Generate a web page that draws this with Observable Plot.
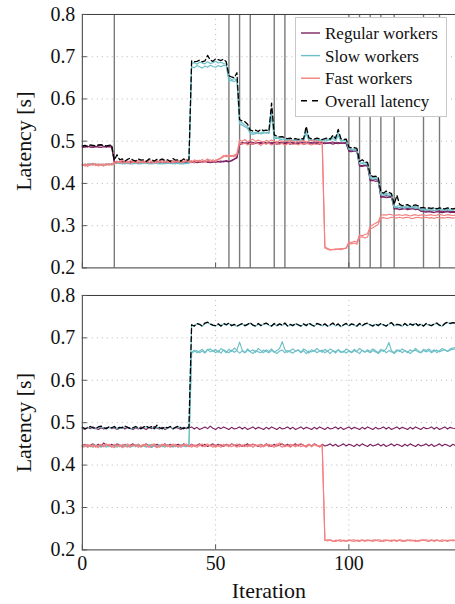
<!DOCTYPE html>
<html><head><meta charset="utf-8">
<script src="https://cdn.jsdelivr.net/npm/d3@7"></script>
<script src="https://cdn.jsdelivr.net/npm/@observablehq/plot@0.6"></script>
<style>
body{margin:0;background:#fff;overflow:hidden;}
#wrap{position:relative;width:455px;height:604px;overflow:hidden;background:#fff;}
#wrap svg{display:block;}
#legend{position:absolute;left:295px;top:17px;}
#wrap svg, #wrap svg text{font-family:"Liberation Serif","DejaVu Serif","Noto Serif",serif !important;}
</style></head>
<body><div id="wrap"><div id="top"></div><div id="bottom"></div><div id="legend"></div></div>
<script>
// ---- series labels / colours ----
const seriesNames = ["Regular workers", "Slow workers", "Fast workers", "Overall latency"];
const seriesColors = ["#7b2160", "#6cbfc7", "#f28080", "#000000"];
const yTicks = [0.2, 0.3, 0.4, 0.5, 0.6, 0.7, 0.8];
const xTicks = [0, 50, 100];
const phaseChanges = [12, 55, 59, 63, 72, 76, 100, 104, 108, 112, 117, 128, 134];

// ---- top panel (latency in ms, one value per iteration 0..140) ----
const topRegular1 = [
487,488,486,489,488,487,489,490,488,487,
488,489,452,450,451,453,449,450,452,451,
450,449,451,452,450,448,451,450,452,451,
449,450,452,451,450,449,451,452,450,451,
452,450,449,451,453,450,452,451,449,450,
452,451,450,453,452,451,455,458,462,494,
497,495,496,498,497,495,496,497,498,496,
495,497,496,498,497,495,496,497,498,496,
497,495,496,498,497,496,495,497,498,496,
497,496,495,497,498,496,497,495,496,497,
478,477,479,478,443,442,444,443,409,408,
410,408,370,369,371,370,368,342,341,343,
340,342,341,340,342,341,340,336,335,334,
335,334,336,334,335,333,334,335,333,334,
333];
const topRegular2 = [
485,486,488,486,485,487,486,485,487,486,
487,486,450,451,449,450,452,448,449,450,
451,450,448,449,451,450,449,451,450,448,
450,451,449,448,450,451,449,450,451,449,
450,451,452,449,450,451,453,450,451,452,
450,452,453,451,454,452,453,457,460,492,
494,496,495,494,493,495,497,494,495,494,
496,494,495,493,495,497,494,495,493,495,
494,496,495,493,494,495,497,494,495,493,
495,494,496,495,493,495,494,496,495,494,
476,475,477,476,441,440,442,441,406,407,
405,406,367,368,366,367,368,339,340,338,
339,340,338,339,340,338,339,334,333,332,
333,332,331,333,332,331,332,333,331,332,
331];
const topSlow1 = [
444,446,443,445,447,444,446,443,445,444,
446,445,448,447,449,446,448,447,446,449,
447,448,446,449,447,448,446,447,449,448,
446,448,447,449,446,448,447,446,448,447,
449,684,686,682,687,685,683,688,684,686,
689,685,687,684,682,650,646,648,645,548,
543,538,534,521,519,521,518,520,522,519,
521,575,508,510,507,509,505,503,504,502,
503,501,504,502,527,505,503,502,504,503,
501,503,505,502,512,504,522,503,501,502,
483,481,482,480,449,448,450,447,414,413,
415,412,376,374,377,375,373,345,346,348,
344,345,347,343,346,345,344,339,340,338,
340,339,341,338,340,339,338,340,339,338,
339];
const topSlow2 = [
446,443,445,447,444,446,444,446,443,447,
444,447,446,449,447,448,446,449,447,446,
448,446,448,447,449,446,448,449,447,446,
448,446,449,447,448,446,449,447,446,448,
447,676,674,679,676,673,678,675,680,677,
675,679,676,680,678,642,644,641,646,541,
538,534,530,518,516,518,520,517,519,521,
518,560,506,507,505,503,504,501,503,500,
501,503,500,502,518,501,502,500,503,501,
503,500,502,504,506,501,514,500,502,501,
481,480,478,479,446,447,445,446,412,410,
411,410,373,372,374,371,372,343,344,342,
343,341,344,342,343,341,342,337,338,336,
337,338,336,337,339,336,337,338,336,337,
338];
const topFast1 = [
445,441,447,443,448,442,446,444,441,447,
443,446,450,453,449,455,451,448,454,452,
449,455,451,453,448,456,452,449,454,451,
455,450,453,448,456,451,454,449,452,457,
451,454,449,455,452,457,450,454,456,452,
455,458,461,466,463,468,464,467,470,503,
500,504,498,502,505,499,503,500,497,502,
499,503,500,497,502,498,501,499,503,500,
497,501,499,502,498,500,503,499,501,498,
500,250,246,244,243,245,244,246,245,248,
262,260,263,261,278,276,279,281,298,302,
306,309,324,326,325,327,326,324,325,326,
324,326,325,323,325,326,324,325,326,324,
325,326,324,325,327,325,324,326,325,324,
325];
const topFast2 = [
442,446,440,445,443,447,441,445,446,443,
447,443,446,449,452,447,450,453,447,450,
453,447,451,449,454,450,447,452,449,453,
449,453,450,454,449,452,451,455,450,453,
454,449,456,451,455,449,453,458,451,456,
452,456,459,463,467,462,466,463,468,495,
493,496,491,495,492,497,494,490,495,493,
495,491,494,496,492,495,490,494,496,492,
494,491,495,492,496,493,491,494,492,495,
493,247,244,242,244,243,245,243,246,246,
258,257,259,256,272,274,271,273,292,295,
299,303,318,319,317,318,320,319,318,320,
318,319,320,318,317,319,320,318,319,320,
318,319,317,320,318,319,318,320,319,318,
319];
const topOverall = [
489,490,488,491,490,489,491,492,490,489,
490,491,455,468,456,458,453,457,460,455,
453,458,455,456,452,458,456,453,457,455,
458,454,456,452,459,455,456,453,458,455,
456,690,688,689,692,688,690,703,692,689,
695,693,691,694,688,655,652,650,662,551,
548,546,540,526,524,526,523,528,525,526,
524,590,515,512,510,511,508,506,507,505,
506,504,507,505,535,508,506,505,507,506,
504,506,508,505,514,507,528,506,504,505,
486,484,485,483,452,456,451,450,420,416,
417,415,380,377,382,379,376,350,372,351,
347,349,350,346,348,349,347,342,343,341,
342,341,343,340,342,341,340,342,341,340,
341];

// ---- bottom panel ----
const botRegular1 = [
487,484,489,486,490,487,484,488,485,488,
490,486,488,484,487,490,485,489,487,484,
488,485,490,487,484,489,486,491,487,485,
489,484,487,490,485,489,487,484,489,486,
487,490,485,489,484,487,490,486,492,487,
484,489,486,490,487,484,489,485,487,490,
485,489,484,487,490,485,489,487,484,489,
485,490,487,484,489,485,487,490,485,489,
484,487,490,485,489,487,484,489,485,490,
487,484,489,485,487,490,485,489,484,487,
490,485,489,487,484,489,485,490,487,484,
489,485,487,490,485,489,484,487,490,485,
489,487,484,489,485,490,487,484,489,486,
487,490,485,489,484,487,490,485,489,487,
486];
const botRegular2 = [
446,449,444,447,450,445,449,444,452,447,
444,449,445,450,447,444,449,445,447,450,
445,449,444,447,450,445,442,447,449,445,
447,450,445,449,444,447,449,445,450,447,
444,449,445,447,450,445,449,444,447,450,
445,449,447,444,449,445,450,447,445,449,
444,447,450,445,449,447,444,449,445,450,
447,444,449,445,447,450,445,449,444,447,
450,445,449,447,444,449,445,450,447,443,
449,445,447,450,445,449,444,447,450,445,
449,447,444,449,445,450,447,444,449,445,
447,450,445,449,444,447,450,445,449,447,
444,449,445,450,447,444,449,445,447,450,
445,449,444,447,450,445,449,447,444,449,
446];
const botSlow1 = [
488,485,487,490,487,485,489,491,487,485,
489,487,490,485,488,487,491,488,485,487,
490,487,485,489,491,487,490,485,489,487,
485,489,487,490,485,488,491,487,485,489,
487,730,727,733,731,727,734,736,732,729,
728,732,727,733,730,734,728,731,727,730,
733,728,731,735,729,727,733,728,732,734,
730,727,733,728,732,729,734,727,731,728,
733,730,727,732,728,734,730,727,733,731,
728,732,727,730,734,728,732,726,730,733,
728,732,730,727,733,728,732,734,730,727,
732,728,733,730,727,732,735,728,731,730,
727,733,728,732,729,734,728,732,727,733,
730,728,732,734,729,727,733,736,733,735,
734];
const botSlow2 = [
444,447,442,445,448,443,446,442,445,448,
443,446,445,442,448,445,443,447,442,445,
448,443,446,445,442,447,449,445,443,446,
445,442,447,443,448,445,442,446,445,443,
446,667,671,665,669,673,666,672,674,668,
673,666,675,670,665,673,668,676,671,690,
671,665,674,668,672,666,675,670,665,672,
668,674,666,670,675,691,672,666,670,674,
668,672,666,674,670,664,672,668,675,670,
666,673,668,674,670,664,672,668,666,674,
670,666,673,668,675,670,666,672,668,674,
670,665,673,668,674,689,670,665,672,668,
674,670,665,672,668,675,670,665,673,670,
674,668,672,665,670,675,672,668,674,676,
677];
const botSlow3 = [
446,443,448,445,442,447,443,448,445,442,
447,443,448,445,446,442,448,445,443,447,
443,448,445,446,443,448,442,446,445,448,
443,446,448,445,442,447,443,448,446,445,
447,664,668,670,665,669,664,673,667,671,
665,670,664,672,668,665,671,666,670,664,
669,665,671,667,663,670,667,665,671,668,
665,670,667,663,669,671,665,670,667,664,
669,671,665,670,663,669,667,671,665,669,
671,665,669,663,670,667,672,665,669,664,
669,665,670,667,663,671,667,669,665,670,
667,663,669,671,665,670,667,663,669,671,
665,670,667,663,669,671,667,665,670,667,
670,665,669,671,667,670,672,668,671,673,
674];
const botFast1 = [
445,448,442,449,443,446,441,448,445,450,
446,442,449,445,448,441,446,450,443,448,
445,449,442,446,450,443,448,445,441,446,
449,445,448,442,446,449,443,448,445,450,
446,442,448,445,449,443,446,450,445,448,
442,446,449,445,448,443,450,446,442,448,
445,449,443,446,450,445,448,442,446,449,
443,448,445,450,446,442,448,445,449,446,
443,448,451,445,446,449,443,448,445,446,
448,223,221,224,220,223,222,220,223,221,
224,221,220,223,222,224,220,222,223,220,
222,224,223,220,222,223,220,224,222,223,
220,222,224,221,223,220,222,223,224,221,
220,223,222,224,221,220,223,222,223,221,
223];
const botFast2 = [
441,445,449,443,448,442,446,449,443,446,
449,445,441,448,443,449,445,442,448,445,
448,442,446,449,445,442,448,450,445,442,
446,449,443,446,450,443,446,442,449,446,
443,448,445,442,446,450,443,448,446,442,
448,445,442,449,445,448,443,446,450,443,
448,443,446,449,442,448,445,449,443,446,
449,445,442,446,452,449,443,446,442,448,
446,449,443,446,442,448,445,449,446,443,
445,222,224,223,221,220,223,224,221,220,
222,223,224,221,220,223,222,224,221,223,
224,221,220,223,224,221,223,222,220,224,
223,220,222,224,221,223,220,222,223,224,
222,224,220,223,221,224,222,220,222,224,
222];
const botOverall = [
489,486,488,491,488,486,490,492,488,486,
490,488,491,486,489,488,492,489,486,488,
491,488,486,490,492,488,491,486,494,488,
486,490,488,491,486,489,492,488,486,490,
488,731,728,734,732,728,735,737,733,730,
729,733,728,734,731,735,729,732,728,731,
734,729,732,736,730,728,734,729,733,735,
731,728,734,729,733,730,735,728,732,729,
734,731,728,733,729,735,731,728,734,732,
729,733,728,731,735,729,733,727,731,734,
729,733,731,728,734,729,733,735,731,728,
733,729,734,731,728,733,736,729,732,731,
728,734,729,733,730,735,729,733,728,734,
731,729,733,735,730,728,734,737,734,736,
735];

// ---- build tables ----
function rows(list, group) {
  return list.flatMap((arr, k) => arr.map((v, i) => ({i, v: v / 1000, id: group + k})));
}
const FONT = "Liberation Serif";

function panel({height, marginBottom, groups, showPhases, showXLabels}) {
  const marks = [
    Plot.gridY(yTicks.slice(1, -1), {stroke: "#b0b0b0", strokeOpacity: 1, strokeWidth: 0.9, strokeDasharray: "1,4"}),
    Plot.gridX(xTicks.slice(1), {stroke: "#b0b0b0", strokeOpacity: 1, strokeWidth: 0.9, strokeDasharray: "1,4"})
  ];
  if (showPhases) marks.push(Plot.ruleX(phaseChanges, {stroke: "#7a7a7a", strokeWidth: 1.4}));
  groups.forEach((g, k) => {
    marks.push(Plot.line(rows(g, "s" + k), {
      x: "i", y: "v", z: "id", stroke: seriesColors[k],
      strokeWidth: k === 3 ? 1.3 : 1.15,
      strokeDasharray: k === 3 ? "5,3" : null
    }));
  });
  marks.push(Plot.frame({stroke: "#3a3a3a", strokeWidth: 1}));
  marks.push(Plot.axisY(yTicks, {tickSize: -5, tickPadding: 12, tickFormat: d3.format(".1f"), label: null, stroke: "#555", fontSize: 20, fontFamily: FONT}));
  marks.push(Plot.axisX(xTicks, {tickSize: -5, tickPadding: 11, tickFormat: showXLabels ? (d => String(d)) : (() => ""), label: null, stroke: "#555", fontSize: 20, fontFamily: FONT}));
  marks.push(Plot.text(["Latency [s]"], {text: d => d, frameAnchor: "left", rotate: -90, dx: -58, textAnchor: "middle", lineAnchor: "middle", fontSize: 22, fontFamily: FONT}));
  if (showXLabels) marks.push(Plot.text(["Iteration"], {text: d => d, frameAnchor: "bottom", dy: 33, textAnchor: "middle", lineAnchor: "top", fontSize: 22, fontFamily: FONT}));
  return Plot.plot({
    width: 456, height, marginLeft: 82, marginRight: 0, marginTop: 14, marginBottom,
    x: {domain: [0, 140]},
    y: {domain: [0.2, 0.8]},
    style: {fontSize: "20px", color: "#111", background: "white", overflow: "visible"},
    marks
  });
}

document.getElementById("top").append(panel({
  height: 282, marginBottom: 14, showPhases: true, showXLabels: false,
  groups: [[topRegular1, topRegular2], [topSlow1, topSlow2], [topFast1, topFast2], [topOverall]]
}));
document.getElementById("bottom").append(panel({
  height: 322, marginBottom: 53, showPhases: false, showXLabels: true,
  groups: [[botRegular1, botRegular2], [botSlow1, botSlow2, botSlow3], [botFast1, botFast2], [botOverall]]
}));

// ---- legend ----
const lg = d3.select("#legend").append("svg").attr("width", 153).attr("height", 101)
  .attr("font-family", FONT).attr("font-size", 17);
lg.append("rect").attr("x", 0.5).attr("y", 0.5).attr("width", 151).attr("height", 99)
  .attr("fill", "white").attr("stroke", "#c8c8c8");
seriesNames.forEach((name, k) => {
  const cy = 16 + k * 22.6;
  lg.append("line").attr("x1", 6).attr("x2", 25).attr("y1", cy).attr("y2", cy)
    .attr("stroke", seriesColors[k]).attr("stroke-width", 1.4)
    .attr("stroke-dasharray", k === 3 ? "6,5" : null);
  lg.append("text").attr("x", 30).attr("y", cy).attr("dy", "0.35em").attr("fill", "#111")
    .attr("font-family", FONT).text(name);
});
</script>
</body></html>
